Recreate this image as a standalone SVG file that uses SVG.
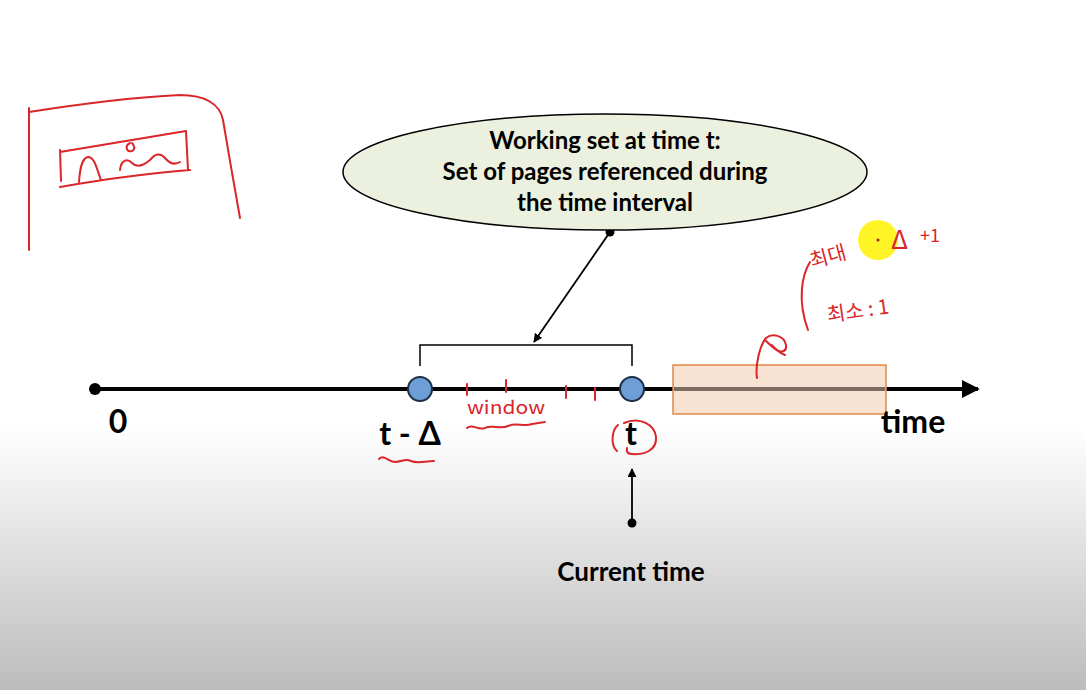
<svg xmlns="http://www.w3.org/2000/svg" width="1086" height="690" viewBox="0 0 1086 690">
<defs>
<linearGradient id="bg" x1="0" y1="0" x2="0" y2="1">
<stop offset="0" stop-color="#ffffff"/>
<stop offset="0.62" stop-color="#ffffff"/>
<stop offset="1" stop-color="#bcbcbc"/>
</linearGradient>
<marker id="ah" viewBox="0 0 10 10" refX="9" refY="5" markerWidth="5" markerHeight="5" orient="auto"><path d="M0,0 L10,5 L0,10 z" fill="#000"/></marker>
<marker id="ahBig" viewBox="0 0 10 10" refX="9" refY="5" markerWidth="4.5" markerHeight="4.5" orient="auto"><path d="M0,0 L10,5 L0,10 z" fill="#000"/></marker>
</defs>
<style>
.lbl{font-family:Lato,"Liberation Sans",sans-serif;font-weight:bold;fill:#000;text-anchor:middle}
.red{fill:none;stroke:#d9262a;stroke-width:2;stroke-linecap:round;stroke-linejoin:round}
.redt{font-family:"Noto Sans CJK KR","Noto Sans",sans-serif;fill:#d9262a}
</style>
<rect x="0" y="0" width="1086" height="690" fill="url(#bg)"/>

<g id="connectors">
<line x1="95" y1="389" x2="978" y2="389" stroke="#000" stroke-width="4" marker-end="url(#ahBig)"/>
<line x1="610" y1="232" x2="534" y2="342" stroke="#000" stroke-width="1.8" marker-end="url(#ah)"/>
<path d="M420,366 V345 H632 V366" fill="none" stroke="#000" stroke-width="1.5"/>
<line x1="632" y1="523" x2="632" y2="469" stroke="#000" stroke-width="1.8" marker-end="url(#ah)"/>
<circle cx="95" cy="389" r="6" fill="#000"/>
<circle cx="610" cy="232" r="4.5" fill="#000"/>
<circle cx="632" cy="523" r="4.5" fill="#000"/>
</g>

<g id="node-ellipse">
<ellipse cx="605" cy="172" rx="262" ry="58" fill="#ebf1de" stroke="#000" stroke-width="1.5"/>
<text class="lbl" x="605" y="149" font-size="24">Working set at time t:</text>
<text class="lbl" x="605" y="180" font-size="24">Set of pages referenced during</text>
<text class="lbl" x="605" y="211" font-size="24">the time interval</text>
</g>

<g id="node-window-start">
<circle cx="420" cy="389" r="12" fill="#6d9fd6" stroke="#1f2f45" stroke-width="2"/>
</g>
<g id="node-window-end">
<circle cx="632" cy="389" r="12" fill="#6d9fd6" stroke="#1f2f45" stroke-width="2"/>
</g>

<g id="node-future">
<rect x="673" y="365" width="213" height="49" fill="#f8e3d3" stroke="#e0894a" stroke-width="1.5"/>
<line x1="674" y1="389" x2="885" y2="389" stroke="#7b6b60" stroke-width="4"/>
</g>

<g id="labels">
<text class="lbl" x="118" y="433" font-size="32">0</text>
<text class="lbl" x="410" y="445" font-size="32">t - Δ</text>
<text class="lbl" x="631" y="445" font-size="32">t</text>
<text class="lbl" x="913" y="433" font-size="32">time</text>
<text class="lbl" x="631" y="581" font-size="26">Current time</text>
</g>

<g id="annotations">
<path class="red" d="M29,250 L29,108 M29,112 C80,104 140,97 180,95 C205,95 220,104 223,120 C228,150 235,190 240,218"/>
<path class="red" d="M60,152 L186,131 L188,170 M60,187 C100,180 150,173 190,170 M60,150 L61,181"/>
<path class="red" d="M79,182 C80,168 82,158 88,157 C95,157 97,170 101,180"/>
<path class="red" d="M120,170 C121,160 127,158 132,163 C137,168 143,166 150,160 C155,154 160,152 165,158 C170,164 175,165 180,162"/>
<path class="red" d="M130,143 C124,146 127,153 132,151 C136,149 134,145 132,143"/>
<path class="red" d="M467,384 L467,395 M506,380 L506,392 M566,386 L566,398 M595,388 L595,400"/>
<text class="redt" x="467" y="414" font-size="18" textLength="78" lengthAdjust="spacingAndGlyphs">window</text>
<path class="red" d="M467,428 C472,423 478,431 485,428 C492,424 500,430 508,426 C516,422 524,427 532,424 L545,422"/>
<path class="red" d="M379,459 C384,454 389,462 395,462 C402,462 405,458 411,461 C418,464 425,461 434,461"/>
<path class="red" d="M618,425 C612,430 610,445 617,451 M624,423 C640,416 655,425 656,437 C657,450 645,455 632,454 C628,454 626,452 627,448"/>
<path class="red" d="M810,262 C802,275 797,300 808,330"/>
<path class="red" d="M757,378 C755,365 760,345 766,338 C772,333 784,335 786,345 C787,352 780,355 772,345 M765,340 C770,345 778,352 785,355"/>
<circle cx="878" cy="240" r="20" fill="#fff200" opacity="0.85"/>
<circle cx="878" cy="240" r="1.5" fill="#a0201e"/>
<text class="redt" x="812" y="268" font-size="20" transform="rotate(-15 812 268)">최대</text>
<text class="redt" x="891" y="249" font-size="26">Δ</text>
<text class="redt" x="920" y="242" font-size="18">+1</text>
<text class="redt" x="828" y="322" font-size="20" transform="rotate(-8 828 322)">최소 : 1</text>
</g>
</svg>
